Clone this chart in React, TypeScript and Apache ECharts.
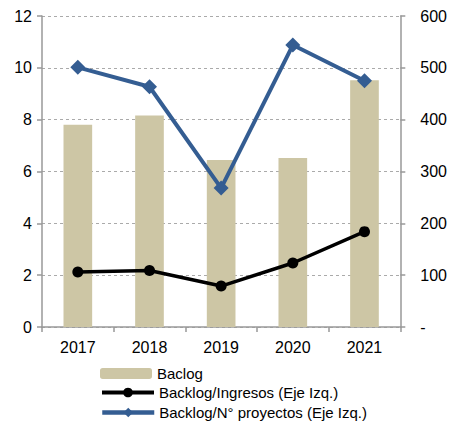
import React, { useEffect, useRef } from "react";
import * as echarts from "echarts";

const years = ["2017", "2018", "2019", "2020", "2021"];
const baclog = [390, 408, 322, 326, 476];
const backlogIngresos = [2.12, 2.18, 1.58, 2.47, 3.68];
const backlogProyectos = [10.02, 9.27, 5.36, 10.88, 9.5];

const NAME_BAR = "Baclog";
const NAME_ING = "Backlog/Ingresos (Eje Izq.)";
const NAME_PRO = "Backlog/N° proyectos (Eje Izq.)";

export default function App() {
  const ref = useRef<HTMLDivElement>(null);
  useEffect(() => {
    document.body.style.margin = "0";
    const chart = echarts.init(ref.current!, null, { renderer: "svg" });
    const font = "Liberation Sans, Arial, sans-serif";
    const legendBase = {
      left: 100,
      itemWidth: 52,
      itemHeight: 11,
      textStyle: { fontSize: 15, color: "#000", fontFamily: font },
      padding: 0,
    };
    chart.setOption({
      animation: false,
      textStyle: { fontFamily: font },
      grid: { left: 42, right: 46, top: 16, bottom: 98 },
      legend: [
        { ...legendBase, top: 366, data: [NAME_BAR] },
        { ...legendBase, top: 385, itemHeight: 12, lineStyle: { width: 4 }, data: [NAME_ING] },
        { ...legendBase, top: 405, itemHeight: 12, lineStyle: { width: 4.5 }, data: [NAME_PRO] },
      ],
      xAxis: {
        type: "category",
        data: years,
        boundaryGap: true,
        axisLine: { lineStyle: { color: "#999", width: 1.5 } },
        axisTick: { show: true, alignWithLabel: false, length: 5, lineStyle: { color: "#999", width: 1.5 } },
        axisLabel: { color: "#000", fontSize: 16, margin: 12, fontFamily: font },
      },
      yAxis: [
        {
          type: "value",
          min: 0,
          max: 12,
          interval: 2,
          axisLine: { show: true, lineStyle: { color: "#999", width: 1.5 } },
          axisTick: { show: true, length: 5, lineStyle: { color: "#999", width: 1.5 } },
          axisLabel: { color: "#000", fontSize: 16, margin: 10, fontFamily: font },
          splitLine: { show: true, lineStyle: { color: "#aaa", type: [3, 3], width: 1 } },
        },
        {
          type: "value",
          min: 0,
          max: 600,
          interval: 100,
          position: "right",
          axisLine: { show: true, lineStyle: { color: "#999", width: 1.5 } },
          axisTick: { show: true, length: 5, lineStyle: { color: "#999", width: 1.5 } },
          axisLabel: {
            color: "#000",
            fontSize: 16,
            margin: 20,
            fontFamily: font,
            formatter: (v: number) => (v === 0 ? "-" : String(v)),
          },
          splitLine: { show: false },
        },
      ],
      series: [
        {
          name: NAME_BAR,
          type: "bar",
          yAxisIndex: 1,
          data: baclog,
          barWidth: "40%",
          itemStyle: { color: "#CDC6A5" },
        },
        {
          name: NAME_ING,
          type: "line",
          yAxisIndex: 0,
          data: backlogIngresos,
          symbol: "circle",
          symbolSize: 11,
          lineStyle: { color: "#000", width: 3.5 },
          itemStyle: { color: "#000" },
        },
        {
          name: NAME_PRO,
          type: "line",
          yAxisIndex: 0,
          data: backlogProyectos,
          symbol: "diamond",
          symbolSize: 15,
          lineStyle: { color: "#345D92", width: 4 },
          itemStyle: { color: "#345D92" },
        },
      ],
    });
    return () => chart.dispose();
  }, []);
  return <div ref={ref} style={{ width: 450, height: 425 }} />;
}
